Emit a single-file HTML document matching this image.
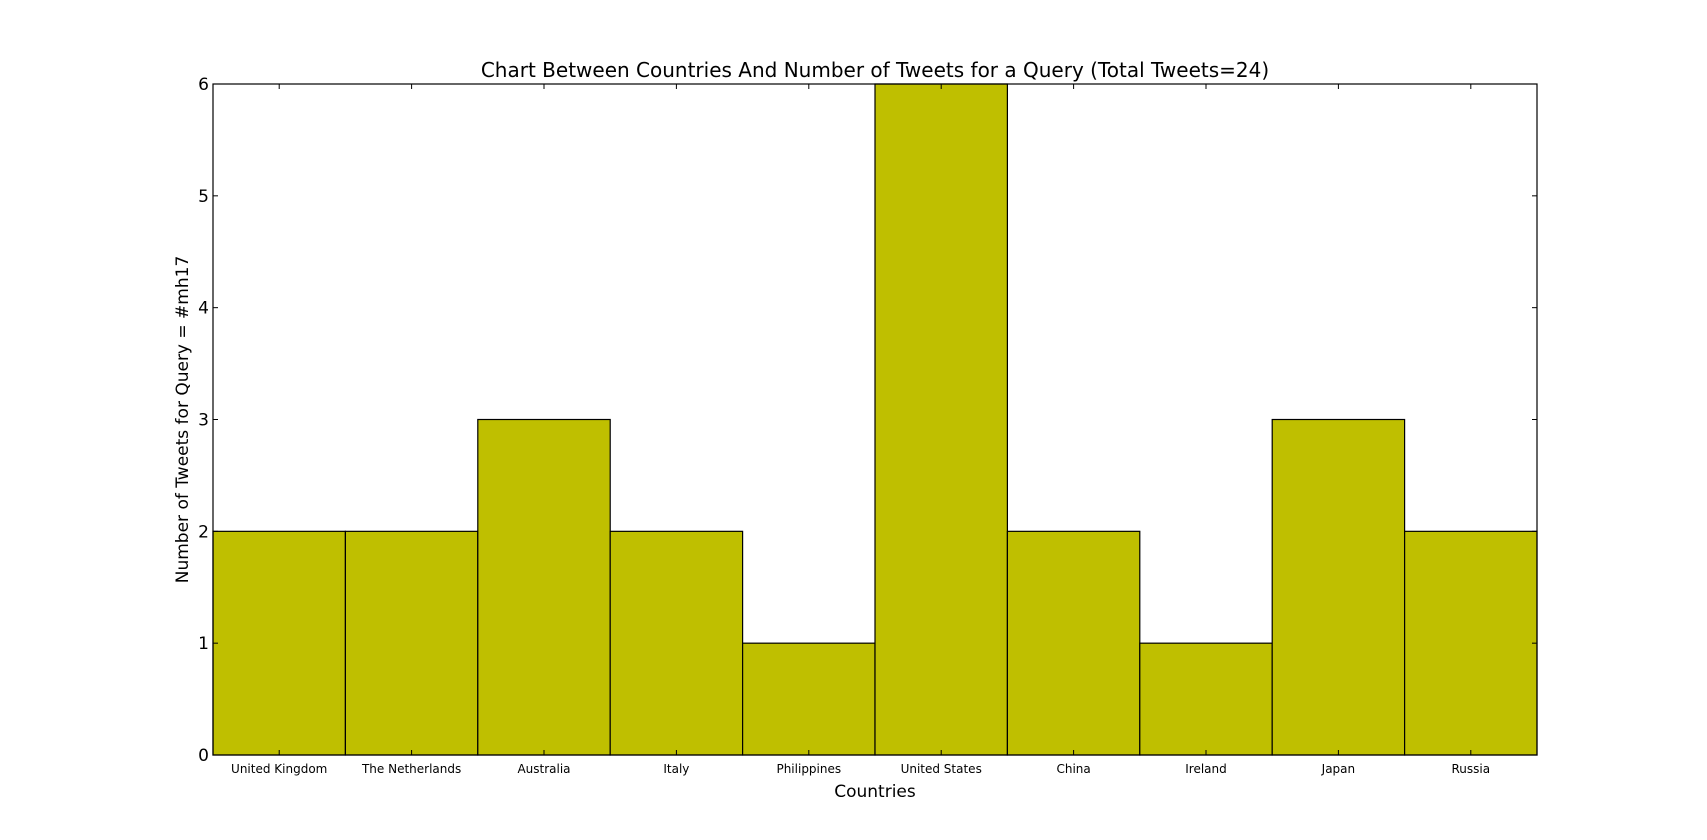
<!DOCTYPE html>
<html><head><meta charset="utf-8"><style>
html,body{margin:0;padding:0;background:#fff;}
svg{display:block;font-family:"DejaVu Sans","Liberation Sans",sans-serif;}
</style></head><body>
<svg id="chart" width="1707" height="840" viewBox="0 0 1707 840"></svg>
<script>
const categories=["United Kingdom","The Netherlands","Australia","Italy","Philippines","United States","China","Ireland","Japan","Russia"];
const values=[2,2,3,2,1,6,2,1,3,2];
const yTicks=[0,1,2,3,4,5,6];
const L=213,R=1537,T=84,B=755,YMAX=6;
const svg=document.getElementById('chart');
const NS='http://www.w3.org/2000/svg';
function x(i){return L+(R-L)*i/categories.length;}
function y(v){return B-(B-T)*v/YMAX;}
function mk(tag,attrs,parent){const e=document.createElementNS(NS,tag);for(const k in attrs)e.setAttribute(k,attrs[k]);(parent||svg).appendChild(e);return e;}
const bw=(R-L)/categories.length;
categories.forEach((c,i)=>{
  const r=mk('rect',{x:x(i),y:y(values[i]),width:bw,height:B-y(values[i]),fill:'#bfbf00',stroke:'#000','stroke-width':1.2});
  
  
  const cx=x(i)+bw/2;
  mk('line',{x1:cx,x2:cx,y1:B,y2:B-5,stroke:'#000'});
  mk('line',{x1:cx,x2:cx,y1:T,y2:T+5,stroke:'#000'});
  const t=mk('text',{x:cx,y:B+18,'text-anchor':'middle','font-size':12,fill:'#000'});
  t.textContent=c;
  
  
});
yTicks.forEach(v=>{
  mk('line',{x1:L,x2:L+5,y1:y(v),y2:y(v),stroke:'#000'});
  mk('line',{x1:R,x2:R-5,y1:y(v),y2:y(v),stroke:'#000'});
  const t=mk('text',{x:L-4,y:y(v)+6,'text-anchor':'end','font-size':17,fill:'#000'});
  t.textContent=v;
  
  
});
const frame=mk('rect',{x:L,y:T,width:R-L,height:B-T,fill:'none',stroke:'#000','stroke-width':1.2});


const title=mk('text',{x:(L+R)/2,y:77,'text-anchor':'middle','font-size':20,fill:'#000'});
title.textContent='Chart Between Countries And Number of Tweets for a Query (Total Tweets=24)';


const xl=mk('text',{x:(L+R)/2,y:797,'text-anchor':'middle','font-size':17,fill:'#000'});
xl.textContent='Countries';


const yl=mk('text',{x:0,y:0,'text-anchor':'middle','font-size':17,fill:'#000',transform:'translate(188,'+((T+B)/2)+') rotate(-90)'});
yl.textContent='Number of Tweets for Query = #mh17';


</script>
</body></html>
